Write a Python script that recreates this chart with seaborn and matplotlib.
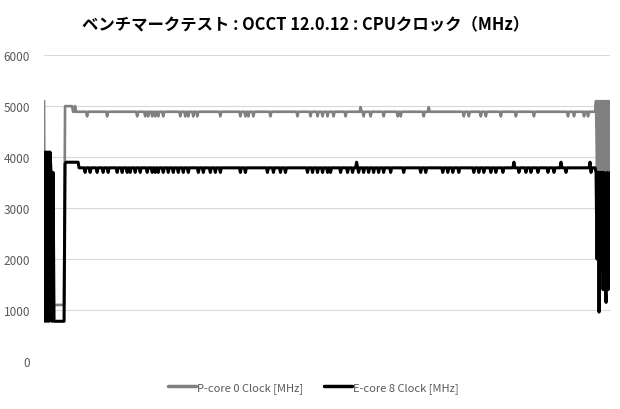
import numpy as np
import pandas as pd
import seaborn as sns
import matplotlib
matplotlib.use("Agg")
import matplotlib.pyplot as plt

# ---- data (one sample per pixel column) ----
n_samples = 566
series_names = ["P-core 0 Clock [MHz]", "E-core 8 Clock [MHz]"]

# P-core 0
p_start = [5100, 1000, 3000, 900, 2500, 1000, 3500, 900, 2000, 1100,
           1100, 1100, 1100, 1100, 1100, 1100, 1100, 1100, 1100, 1100, 1100,
           5000, 5000, 5000, 5000, 5000, 5000, 5000, 5000, 4890, 4890, 5000]
p_base = 4890
p_dip_value = 4800
p_dips = [43, 63, 93, 101, 104, 108, 111, 114, 119, 136, 141, 144, 149, 153,
          176, 196, 201, 204, 209, 226, 253, 266, 273, 278, 283, 289, 301,
          319, 326, 339, 353, 356, 379, 419, 424, 436, 441, 456, 471, 489,
          523, 529, 539, 543]
p_peak_value = 4980
p_peaks = [316, 384]
p_end = [5100, 3700, 5100, 3700, 5100, 3700, 5100, 3700, 5100, 3700,
         5100, 3700, 5100, 3700, 5100]

# E-core 8
e_start = [4100, 780, 4100, 780, 4100, 780, 4100, 3700, 780, 3700,
           780, 780, 780, 780, 780, 780, 780, 780, 780, 780, 780,
           3870, 3900, 3900, 3900, 3900, 3900, 3900, 3900, 3900, 3900,
           3900, 3900, 3900, 3900]
e_base = 3790
e_dip_value = 3700
e_dips = [41, 46, 53, 59, 64, 73, 78, 83, 86, 91, 96, 103, 108, 111, 114,
          119, 124, 129, 134, 139, 144, 154, 159, 166, 171, 176, 196, 201,
          223, 229, 236, 241, 263, 268, 273, 278, 283, 286, 296, 303, 308,
          314, 319, 324, 329, 334, 339, 346, 359, 376, 381, 398, 403, 408,
          414, 429, 434, 439, 446, 451, 458, 474, 481, 486, 493, 503, 509,
          521, 546]
e_peak_value = 3900
e_peaks = [312, 469, 516, 545]
e_end = [3700, 2000, 3700, 960, 3700, 1800, 3700, 1400, 3700, 1600,
         1150, 3700, 1400, 2550, 3700]


def build(start, base, dips, dip_value, peaks, peak_value, end):
    vals = np.full(n_samples, base, dtype=float)
    vals[:len(start)] = start
    vals[dips] = dip_value
    vals[peaks] = peak_value
    vals[n_samples - len(end):] = end
    return vals


p_vals = build(p_start, p_base, p_dips, p_dip_value, p_peaks, p_peak_value, p_end)
e_vals = build(e_start, e_base, e_dips, e_dip_value, e_peaks, e_peak_value, e_end)

df = pd.DataFrame({
    "sample": np.concatenate([np.arange(n_samples)] * 2),
    "clock": np.concatenate([p_vals, e_vals]),
    "series": [series_names[0]] * n_samples + [series_names[1]] * n_samples,
})

sns.set_theme(style="white")
plt.rcParams['font.family'] = ['Noto Sans CJK JP', 'DejaVu Sans']

fig = plt.figure(figsize=(6.2, 4.1), dpi=100)
ax = fig.add_axes([0.071, 0.117, 0.913, 0.746])

sns.lineplot(data=df, x="sample", y="clock", hue="series",
             palette={series_names[0]: "#808080", series_names[1]: "#000000"},
             linewidth=2.0, estimator=None, sort=False, ax=ax)
for line, lw in zip(ax.get_lines(), [1.9, 2.2]):
    line.set_linewidth(lw)

ax.set_xlim(0, n_samples - 1)
ax.set_ylim(0, 6000)
ax.set_yticks(range(0, 6001, 1000))
ax.set_xticks([])
ax.set_xlabel("")
ax.set_ylabel("")
ax.grid(axis="y", color="#D9D9D9", linewidth=0.8)
ax.set_axisbelow(True)
for s in ax.spines.values():
    s.set_visible(False)
ax.tick_params(axis="y", length=0, pad=10, labelsize=8.5, labelcolor="#595959")

fig.suptitle("ベンチマークテスト : OCCT 12.0.12 : CPUクロック（MHz）",
             x=0.493, y=0.963, fontsize=11.8, fontweight="bold", color="#000000")

leg = ax.legend(loc="upper center", bbox_to_anchor=(0.476, -0.035), ncol=2,
                frameon=False, fontsize=8, handlelength=2.5, handletextpad=0.1,
                columnspacing=1.9, labelcolor="#595959")
for h in leg.get_lines():
    h.set_linewidth(2.5)

fig.savefig("out.png", dpi=100)
